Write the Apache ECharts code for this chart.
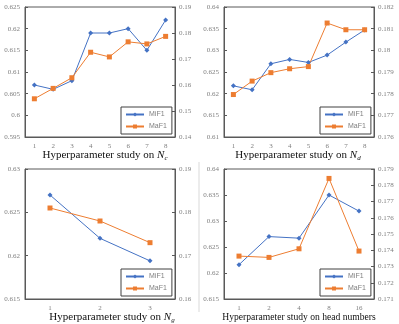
<!DOCTYPE html>
<html>
<head>
<meta charset="utf-8">
<script src="https://cdn.jsdelivr.net/npm/echarts@6/dist/echarts.min.js"></script>
<style>
html, body { margin: 0; padding: 0; background: #fff; }
#chart { width: 399px; height: 324px; }
</style>
</head>
<body>
<div id="chart"></div>
<script>
// categories
var catsNc = ['1', '2', '3', '4', '5', '6', '7', '8']
var catsNd = ['1', '2', '3', '4', '5', '6', '7', '8']
var catsNg = ['1', '2', '3']
var catsHead = ['1', '2', '4', '8', '16']

// MiF1 (left axis) / MaF1 (right axis)
var mifNc = [0.607, 0.606, 0.608, 0.619, 0.619, 0.620, 0.615, 0.622]
var mafNc = [0.1547, 0.1587, 0.1628, 0.1726, 0.1708, 0.1766, 0.1758, 0.1787]
var mifNd = [0.6218, 0.6209, 0.6269, 0.6279, 0.6272, 0.6289, 0.6319, 0.6347]
var mafNd = [0.17796, 0.17858, 0.17897, 0.17915, 0.17925, 0.18126, 0.18095, 0.18095]
var mifNg = [0.627, 0.622, 0.6194]
var mafNg = [0.181, 0.178, 0.173]
var mifHead = [0.6216, 0.627, 0.6267, 0.635, 0.6319]
var mafHead = [0.17364, 0.17356, 0.17409, 0.17842, 0.17395]

// axis ranges [min, max, interval]
var leftRanges = [[0.595, 0.625, 0.005], [0.61, 0.64, 0.005], [0.615, 0.63, 0.005], [0.615, 0.64, 0.005]]
var rightRanges = [[0.14, 0.19, 0.01], [0.176, 0.182, 0.001], [0.16, 0.19, 0.01], [0.171, 0.179, 0.001]]

var chart = echarts.init(document.getElementById('chart'))

var blue = '#4472C4'
var orange = '#ED7D31'
var frame = '#595959'
var labelColor = '#7f7f7f'

var panels = [
  { left: 25, top: 7, cats: catsNc, mif: mifNc, maf: mafNc, sub: 'c', tx: 105, ty: 148, fs: 11 },
  { left: 224, top: 7, cats: catsNd, mif: mifNd, maf: mafNd, sub: 'd', tx: 298, ty: 148, fs: 11 },
  { left: 25, top: 169, cats: catsNg, mif: mifNg, maf: mafNg, sub: 'g', tx: 112, ty: 310, fs: 11 },
  { left: 224, top: 169, cats: catsHead, mif: mifHead, maf: mafHead, sub: null, tx: 299, ty: 310, fs: 9.6 }
]

var grid = [], xAxis = [], yAxis = [], series = [], title = [], legend = []

panels.forEach(function(p, i) {
  grid.push({ left: p.left, top: p.top, width: 150, height: 130, show: true, borderColor: frame, borderWidth: 1 })
  xAxis.push({
    type: 'category', gridIndex: i, data: p.cats, boundaryGap: true,
    axisLine: { lineStyle: { color: frame } },
    axisTick: { inside: true, length: 3, lineStyle: { color: frame } },
    axisLabel: { color: labelColor, fontSize: 7, fontFamily: 'Liberation Serif', margin: 6 }
  })
  var lr = leftRanges[i], rr = rightRanges[i]
  yAxis.push({
    type: 'value', gridIndex: i, position: 'left', min: lr[0], max: lr[1], interval: lr[2],
    splitLine: { show: false },
    axisLine: { show: true, lineStyle: { color: frame } },
    axisTick: { show: true, inside: true, length: 3, lineStyle: { color: frame } },
    axisLabel: { color: labelColor, fontSize: 7, fontFamily: 'Liberation Serif', margin: 5 }
  })
  yAxis.push({
    type: 'value', gridIndex: i, position: 'right', min: rr[0], max: rr[1], interval: rr[2],
    splitLine: { show: false },
    axisLine: { show: true, lineStyle: { color: frame } },
    axisTick: { show: true, inside: true, length: 3, lineStyle: { color: frame } },
    axisLabel: { color: labelColor, fontSize: 7, fontFamily: 'Liberation Serif', margin: 4 }
  })
  series.push({
    name: 'MiF1', type: 'line', xAxisIndex: i, yAxisIndex: i * 2, data: p.mif,
    symbol: 'diamond', symbolSize: 5, color: blue, lineStyle: { width: 1 }, animation: false
  })
  series.push({
    name: 'MaF1', type: 'line', xAxisIndex: i, yAxisIndex: i * 2 + 1, data: p.maf,
    symbol: 'rect', symbolSize: 5, color: orange, lineStyle: { width: 1 }, animation: false
  })
  var text = p.sub
    ? '{a|Hyperparameter study on }{n|N}{s|' + p.sub + '}'
    : '{a|Hyperparameter study on head numbers}'
  title.push({
    text: text, left: p.tx, top: p.ty, textAlign: 'center', padding: 0,
    textStyle: {
      fontWeight: 'normal',
      rich: {
        a: { fontFamily: 'Liberation Serif', fontSize: p.fs, fontWeight: 'normal', color: '#111', lineHeight: 14 },
        n: { fontFamily: 'Liberation Serif', fontSize: p.fs, fontWeight: 'normal', fontStyle: 'italic', color: '#111', lineHeight: 14 },
        s: { fontFamily: 'Liberation Serif', fontSize: 7, fontWeight: 'normal', fontStyle: 'italic', color: '#111', padding: [6, 0, 0, 0] }
      }
    }
  })
  legend.push({
    data: ['MiF1', 'MaF1'], orient: 'vertical', left: p.left + 96, top: p.top + 100,
    itemWidth: 18, itemHeight: 5, itemGap: 5, padding: [4, 5, 4, 4],
    borderColor: '#404040', borderWidth: 1,
    textStyle: { color: labelColor, fontSize: 7, fontFamily: 'Liberation Sans' }
  })
})

var option = {
  animation: false,
  grid: grid,
  xAxis: xAxis,
  yAxis: yAxis,
  series: series,
  title: title,
  legend: legend,
  graphic: [{
    type: 'line', shape: { x1: 199, y1: 162, x2: 199, y2: 312 },
    style: { stroke: '#d9d9d9', lineWidth: 1 }
  }]
}
chart.setOption(option)
</script>
</body>
</html>
